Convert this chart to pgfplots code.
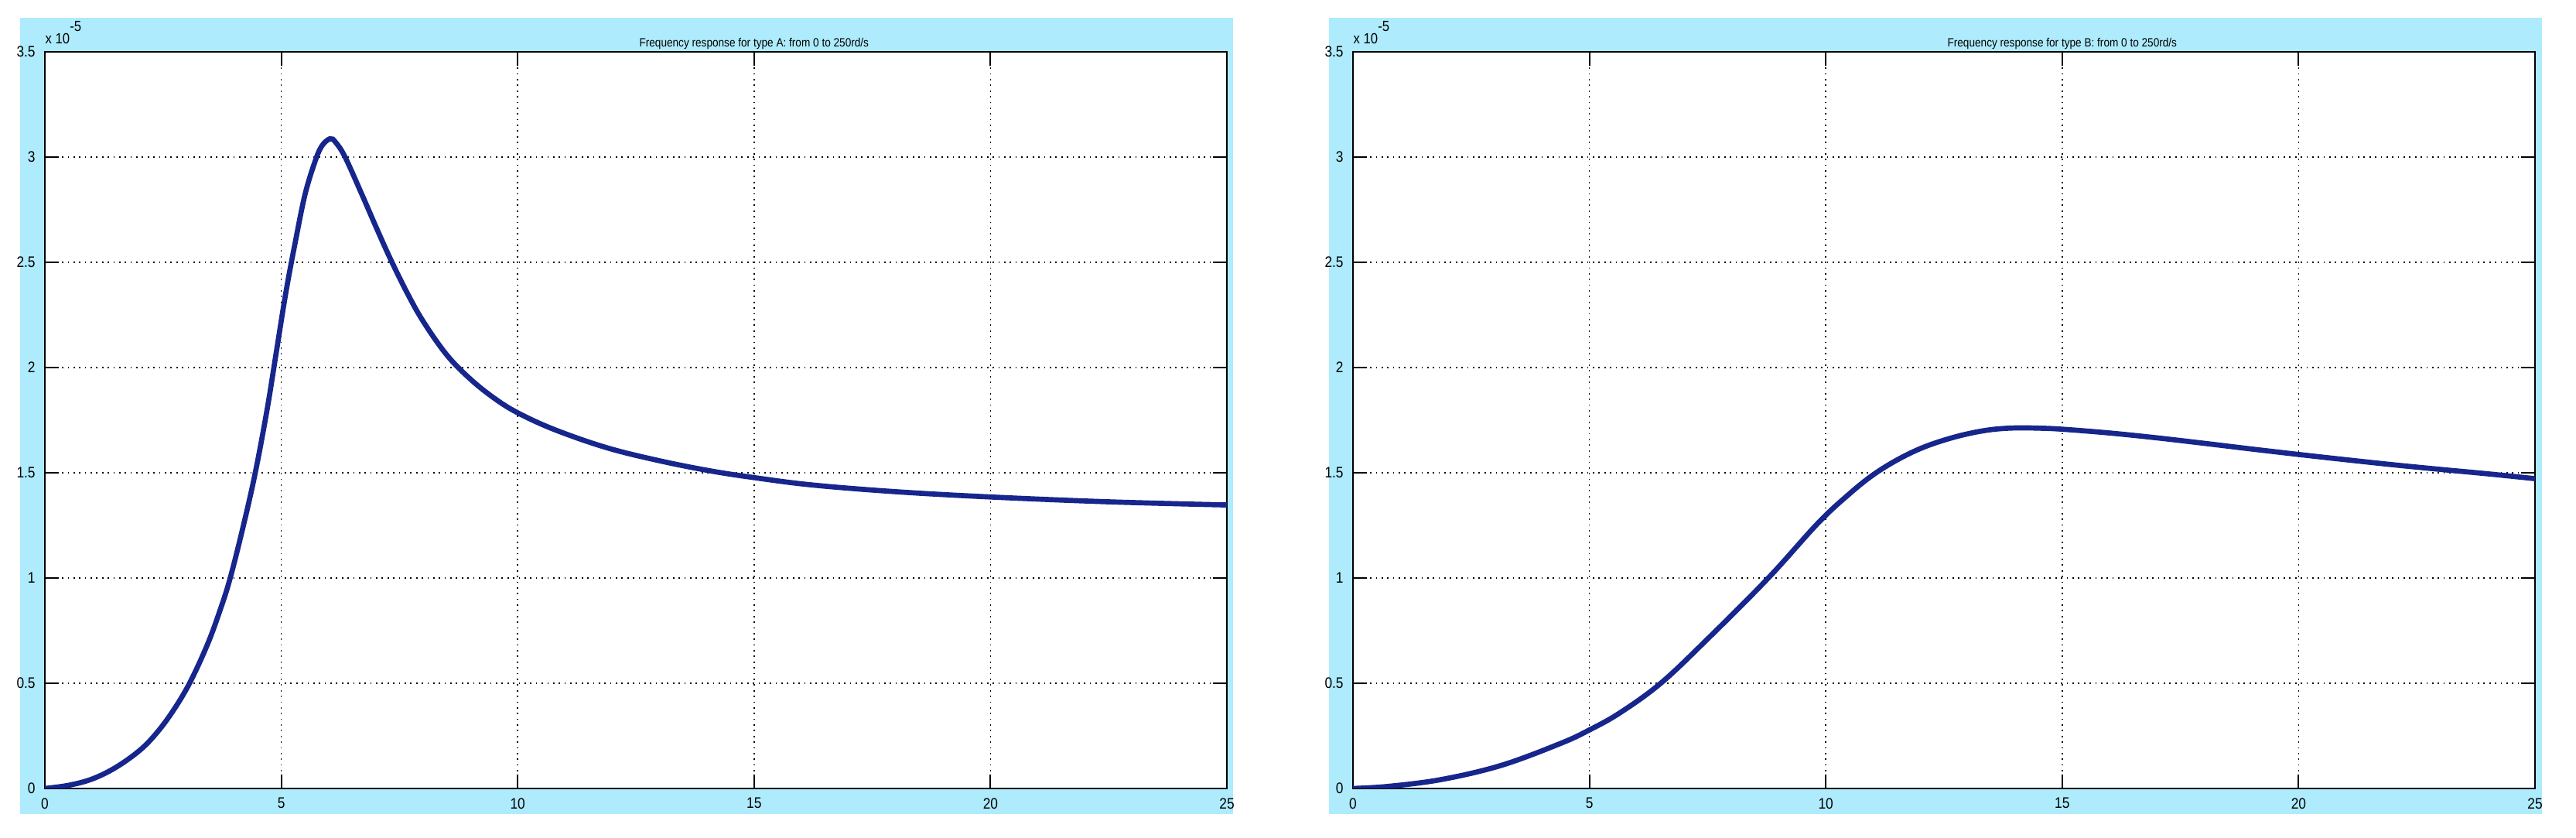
\documentclass[border=0pt]{standalone}
\usepackage{fontspec}
\setmainfont{Liberation Sans}
\newfontfamily\mlfont[FakeStretch=0.88]{Liberation Sans}
\usepackage{pgfplots}
\usepackage{pgfplotstable}
\pgfplotsset{compat=1.18}

\definecolor{figbg}{RGB}{174,235,252}
\definecolor{lineblue}{RGB}{22,38,140}

% magnitude, in units of 1e-5
\pgfplotstableread{
w     mag
0     0
0.5   0.015
1.0   0.045
1.5   0.1
2.0   0.18
2.35  0.26
2.7   0.365
3.06  0.5
3.44  0.685
3.71  0.85
3.92  1.0
4.2   1.25
4.45  1.5
4.7   1.8
4.9   2.08
5.1   2.36
5.3   2.6
5.5   2.82
5.7   2.97
5.85  3.05
6.03  3.087
6.15  3.07
6.35  3.0
6.7   2.825
7.0   2.67
7.3   2.52
7.65  2.36
8.0   2.22
8.5   2.06
9.0   1.945
9.5   1.855
10    1.785
10.78 1.705
11.87 1.62
12.96 1.559
14.05 1.51
15    1.477
16.23 1.442
18    1.41
20    1.385
22.5  1.362
25    1.347
}\typeA

\pgfplotstableread{
w     mag
0     0
0.75  0.01
1.88  0.043
3.14  0.11
4.39  0.214
5     0.278
5.65  0.36
6.52  0.502
7.53  0.717
8.78  0.999
9.84  1.262
10.5  1.40
11    1.49
11.5  1.56
12    1.615
12.5  1.655
13    1.685
13.5  1.705
14    1.713
14.5  1.712
15    1.707
16    1.689
17    1.666
18    1.640
19    1.613
20    1.587
21    1.562
22    1.538
23    1.516
24    1.495
25    1.472
}\typeB

\pgfplotsset{mlstyle/.style={
  scale only axis, width=152.8mm, height=95.2mm, anchor=south west,
  xmin=0, xmax=25, ymin=0, ymax=3.5,
  xtick={0,5,...,25}, ytick={0,0.5,...,3.5},
  tick align=inside, tick pos=both, major tick length=1.8mm,
  grid=major,
  grid style={black, line width=0.5pt, dash pattern=on 0.5pt off 1.6pt},
  axis line style={line width=0.55pt},
  every tick/.style={black, line width=0.55pt},
  axis background/.style={fill=white},
  tick label style={font=\mlfont\fontsize{5.6}{6.5}\selectfont},
  /pgf/number format/assume math mode=true,
  scaled ticks=false,
  clip mode=individual,
}}

\begin{document}
\begin{tikzpicture}
\useasboundingbox (0,0) rectangle (333mm,108.3mm);
\fill[figbg] (2.6mm,3.1mm) rectangle (159.4mm,106mm);
\fill[figbg] (171.8mm,3.1mm) rectangle (328.6mm,106mm);

\begin{axis}[mlstyle, at={(5.8mm,6.4mm)}]
\addplot[lineblue, line width=1.9pt, smooth, tension=0.6] table[x=w, y=mag] {\typeA};
\node[anchor=base west, font=\mlfont\fontsize{5.4}{6}\selectfont, inner sep=0pt, yshift=1.0mm]
  at (rel axis cs:0,1) {x 10\raisebox{1.6mm}{-5}};
\node[anchor=base, font=\mlfont\fontsize{4.4}{5}\selectfont, inner sep=0pt, yshift=0.62mm]
  at (rel axis cs:0.6,1) {Frequency response for type A: from 0 to 250rd/s};
\end{axis}

\begin{axis}[mlstyle, at={(174.9mm,6.4mm)}]
\addplot[lineblue, line width=1.9pt, smooth, tension=0.6] table[x=w, y=mag] {\typeB};
\node[anchor=base west, font=\mlfont\fontsize{5.4}{6}\selectfont, inner sep=0pt, yshift=1.0mm]
  at (rel axis cs:0,1) {x 10\raisebox{1.6mm}{-5}};
\node[anchor=base, font=\mlfont\fontsize{4.4}{5}\selectfont, inner sep=0pt, yshift=0.62mm]
  at (rel axis cs:0.6,1) {Frequency response for type B: from 0 to 250rd/s};
\end{axis}
\end{tikzpicture}
\end{document}
